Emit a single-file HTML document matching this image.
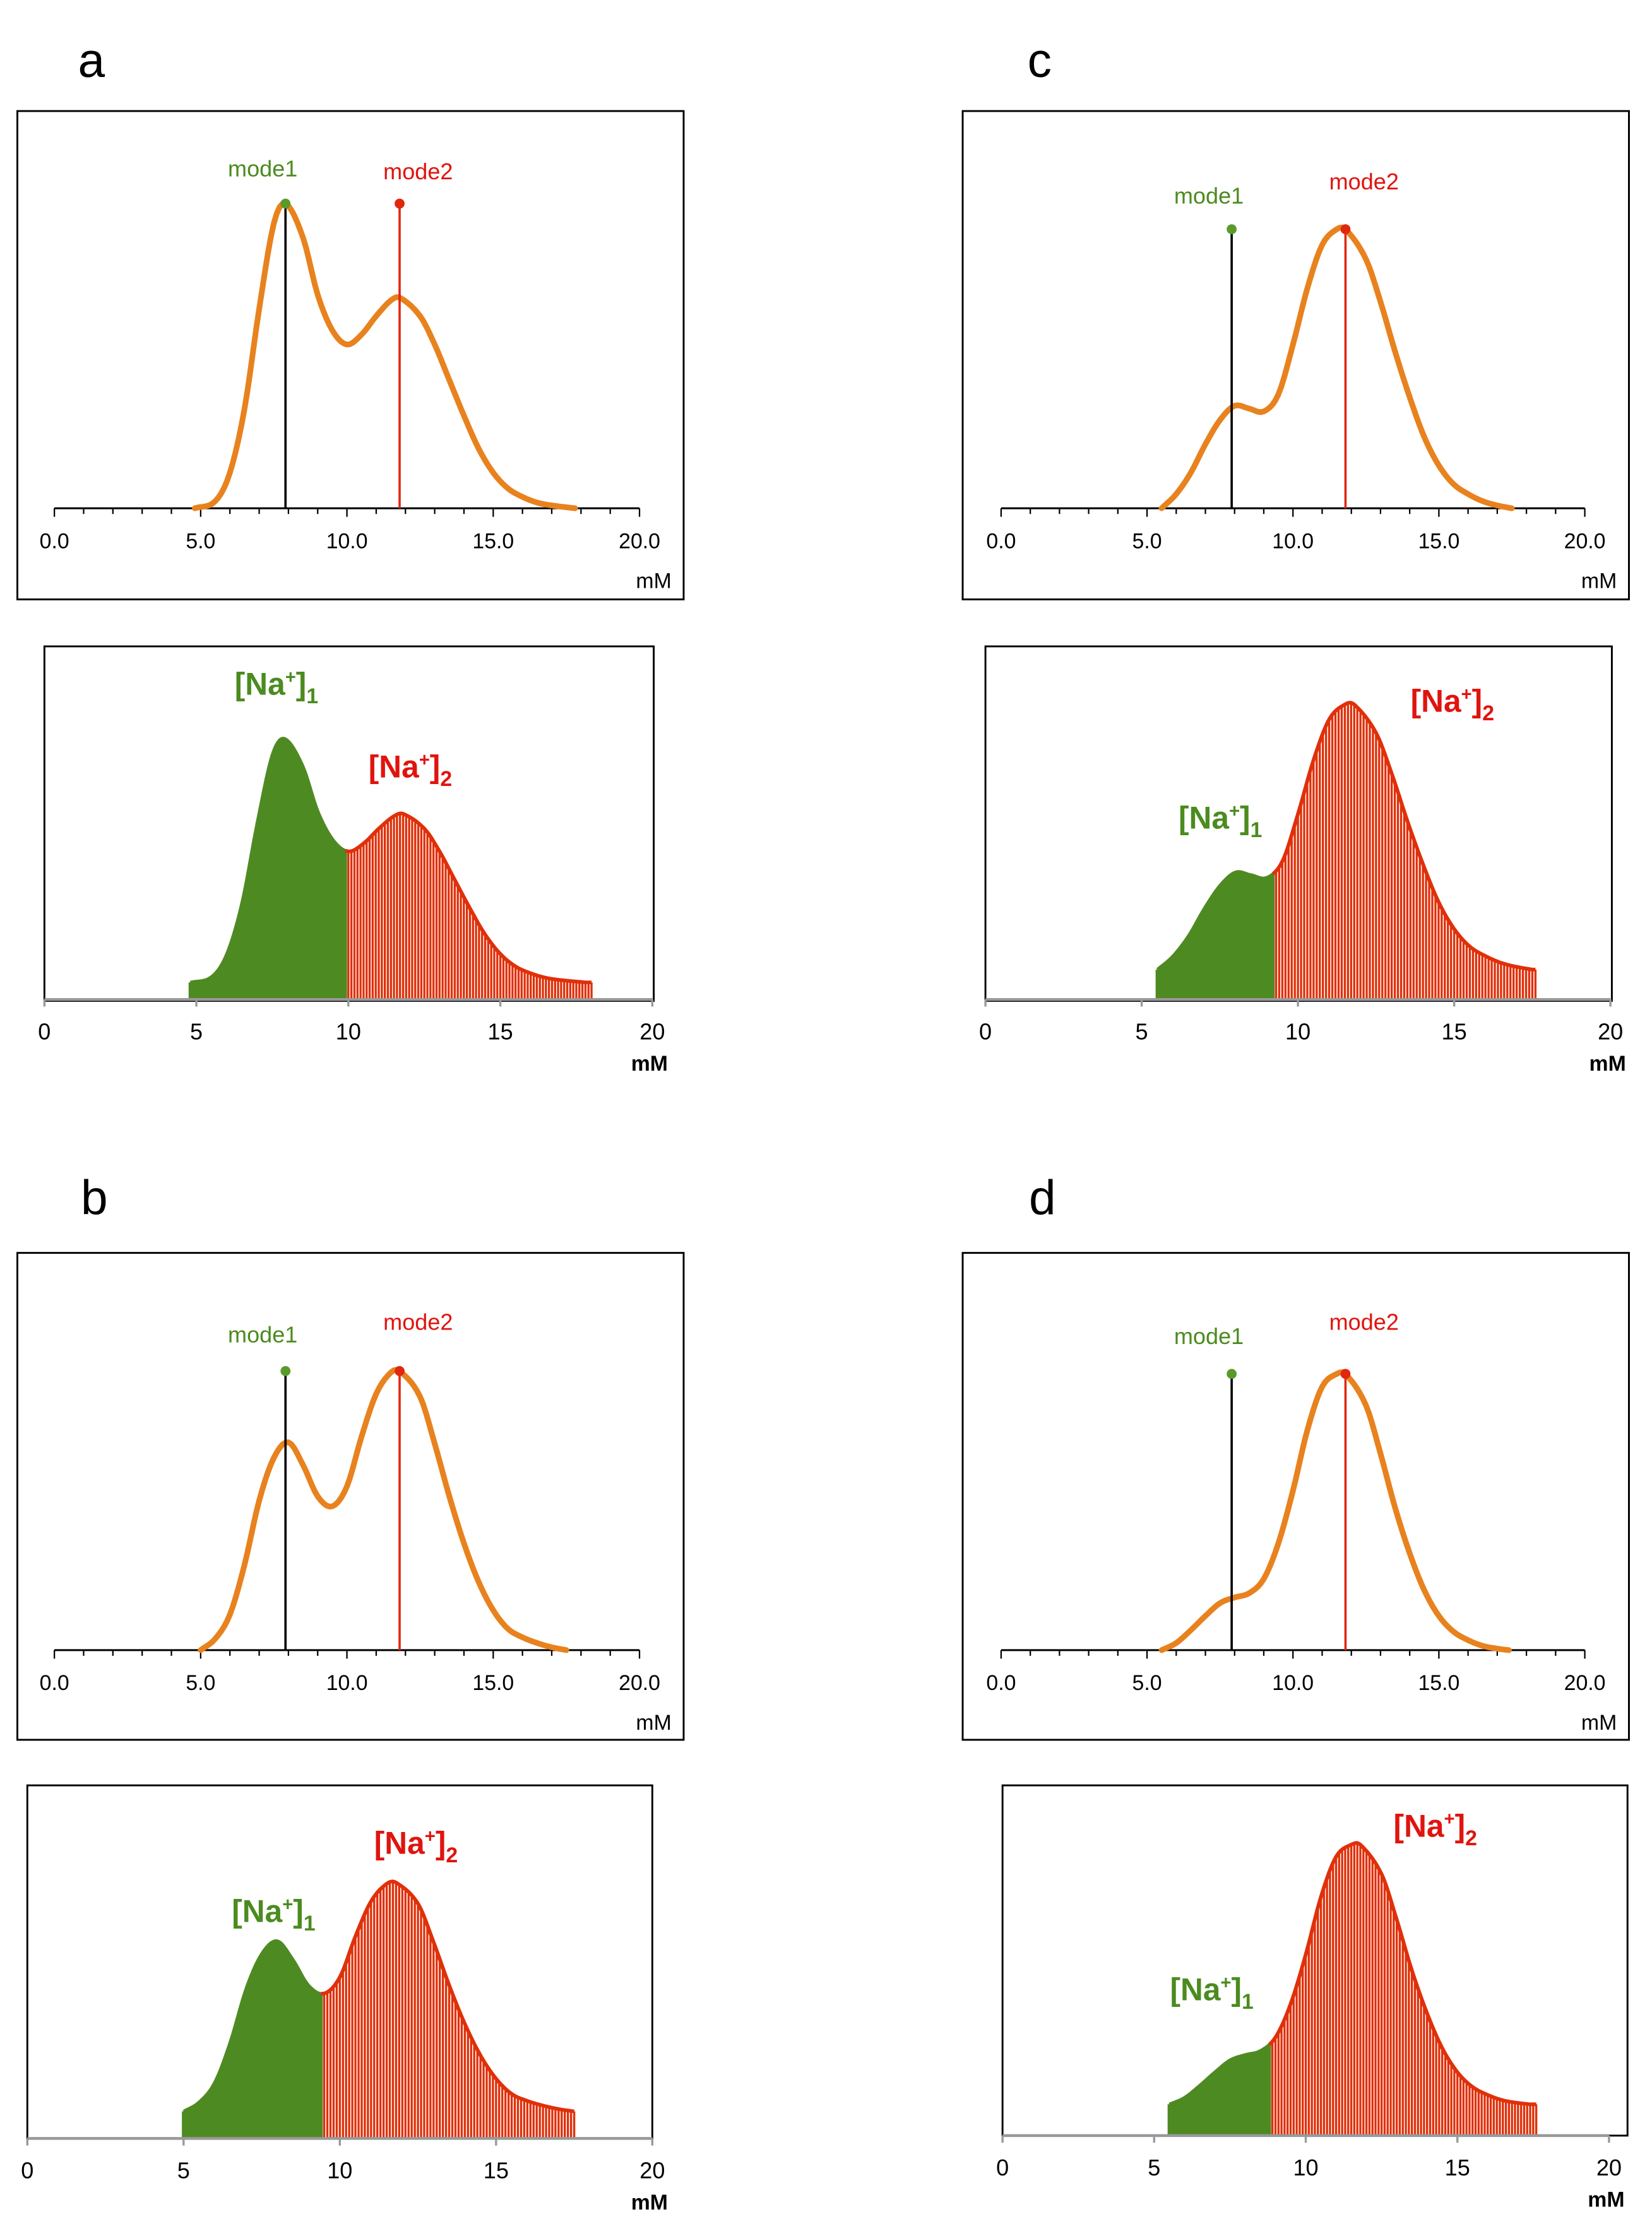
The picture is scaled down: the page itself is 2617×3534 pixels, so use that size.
<!DOCTYPE html>
<html><head><meta charset="utf-8"><style>
html,body{margin:0;padding:0;background:#fff;}
svg{display:block;font-family:"Liberation Sans",sans-serif;}
</style></head><body>
<svg id="fig" width="2617" height="3534" viewBox="0 0 1160 1567" xmlns="http://www.w3.org/2000/svg"></svg>
<script>
// ---- data (mM, relative density in top-panel pixels) ----
const xA=[4.8,5.5,6,6.5,7,7.5,7.9,8.5,9,9.5,10,10.5,11,11.5,11.8,12.5,13,13.5,14,14.5,15,15.5,16,16.5,17,17.8];
const yA=[0,5,25,70,140,200,214,190,150,125,115,122,135,146,148,135,115,90,65,42,25,14,8,4,2,0];
const xC=[5.5,6,6.5,7,7.5,8,8.5,9,9.5,10,10.5,11,11.5,11.8,12.5,13,13.5,14,14.5,15,15.5,16,16.5,17,17.5];
const yC=[0,10,25,45,62,72,70,68,80,115,155,185,196,196,175,145,110,78,50,30,17,10,5,2,0];
const xB=[5,5.5,6,6.5,7,7.5,8,8.5,9,9.5,10,10.5,11,11.5,11.8,12.5,13,13.5,14,14.5,15,15.5,16,16.5,17,17.5];
const yB=[0,8,25,60,105,135,146,130,108,101,115,150,180,195,196,178,145,108,75,48,28,15,9,5,2,0];
const xD=[5.5,6,6.5,7,7.5,8,8.5,9,9.5,10,10.5,11,11.5,11.8,12.5,13,13.5,14,14.5,15,15.5,16,16.5,17,17.4];
const yD=[0,5,14,24,33,37,40,50,75,112,155,185,194,194,172,138,100,68,42,24,13,7,3,1,0];
const modes=[7.9,11.8];
const topTicks=["0.0","5.0","10.0","15.0","20.0"];
const botTicks=["0","5","10","15","20"];

const NS="http://www.w3.org/2000/svg";
const svg=document.getElementById('fig');
function mk(tag,attrs,parent,text){const e=document.createElementNS(NS,tag);for(const k in attrs)e.setAttribute(k,attrs[k]);if(text!==undefined)e.textContent=text;(parent||svg).appendChild(e);return e;}
function interp(xs,ys,x){
  const n=xs.length;
  if(x<=xs[0])return ys[0];if(x>=xs[n-1])return ys[n-1];
  const m=i=>{const a=Math.max(0,i-1),b=Math.min(n-1,i+1);return (ys[b]-ys[a])/(xs[b]-xs[a]);};
  for(let i=1;i<n;i++){if(x<=xs[i]){const hh=xs[i]-xs[i-1],t=(x-xs[i-1])/hh,t2=t*t,t3=t2*t;
    return (2*t3-3*t2+1)*ys[i-1]+(t3-2*t2+t)*hh*m(i-1)+(-2*t3+3*t2)*ys[i]+(t3-t2)*hh*m(i);}}
  return ys[n-1];}
function smooth(pts){let d="M"+pts[0][0]+","+pts[0][1];for(let i=0;i<pts.length-1;i++){const p0=pts[Math.max(0,i-1)],p1=pts[i],p2=pts[i+1],p3=pts[Math.min(pts.length-1,i+2)];const c1=[p1[0]+(p2[0]-p0[0])/6,p1[1]+(p2[1]-p0[1])/6],c2=[p2[0]-(p3[0]-p1[0])/6,p2[1]-(p3[1]-p1[1])/6];d+=" C"+c1[0]+","+c1[1]+" "+c2[0]+","+c2[1]+" "+p2[0]+","+p2[1];}return d;}

function topPanel(o){
  const g=mk('g',{});
  
  
  const r=mk('rect',{x:o.bx,y:o.by,width:o.bw,height:o.bh,fill:'none',stroke:'#000','stroke-width':1.3},g);
  
  const sx=v=>o.x0+(o.x1-o.x0)*v/20;
  const ax=mk('line',{x1:sx(0),x2:sx(20),y1:o.ay,y2:o.ay,stroke:'#000','stroke-width':1.3},g);
  
  for(let v=0;v<=20;v++){mk('line',{x1:sx(v),x2:sx(v),y1:o.ay,y2:o.ay+(v%5?4:6),stroke:'#000','stroke-width':1},g);}
  topTicks.forEach((t,i)=>{const e=mk('text',{x:sx(i*5),y:o.ay+28,'font-size':15,'text-anchor':'middle',fill:'#000'},g,t);});
  const u=mk('text',{x:sx(20)+10,y:o.ay+56,'font-size':15,'text-anchor':'middle'},g,'mM');
  const pts=[];for(let x=o.xs[0];x<=o.xs[o.xs.length-1]+1e-6;x+=0.1)pts.push([sx(x),o.ay-interp(o.xs,o.ys,x)]);
  let d="M"+pts.map(p=>p[0].toFixed(2)+","+p[1].toFixed(2)).join(" L");
  const c=mk('path',{d:d,fill:'none',stroke:'#E8821E','stroke-width':4,'stroke-linecap':'round','stroke-linejoin':'round'},g);
  
  const l1=mk('line',{x1:sx(modes[0]),x2:sx(modes[0]),y1:o.ay,y2:o.ay-o.mh,stroke:'#000','stroke-width':1.6},g);
  
  mk('circle',{cx:sx(modes[0]),cy:o.ay-o.mh,r:3.5,fill:'#5a9a2a'},g);
  const l2=mk('line',{x1:sx(modes[1]),x2:sx(modes[1]),y1:o.ay,y2:o.ay-o.mh,stroke:'#E0280E','stroke-width':1.6},g);
  
  mk('circle',{cx:sx(modes[1]),cy:o.ay-o.mh,r:3.5,fill:'#E0280E'},g);
  const t1=mk('text',{x:sx(modes[0])-16,y:o.l1y,'font-size':16,'text-anchor':'middle',fill:'#4b8b1f'},g,'mode1');
  
  const t2=mk('text',{x:sx(modes[1])+13,y:o.l2y,'font-size':16,'text-anchor':'middle',fill:'#E0140E'},g,'mode2');
  
}

function botPanel(o){
  const g=mk('g',{});
  
  
  const r=mk('rect',{x:o.bx,y:o.by,width:o.bw,height:o.bh,fill:'none',stroke:'#000','stroke-width':1.3},g);
  
  const sx=v=>o.x0+(o.x1-o.x0)*v/20;
  const h=x=>o.off+o.k*interp(o.xs,o.ys,x);
  const start=o.xs[0],end=o.xs[o.xs.length-1]+o.ext;
  const hh=x=>x>o.xs[o.xs.length-1]?o.off:h(x);
  for(let x=start;x<=end+1e-6;x+=0.1){
    const green=x<o.split;
    const b=mk('line',{x1:sx(x),x2:sx(x),y1:o.ay,y2:o.ay-hh(x),stroke:green?'#4E8A22':'#E0300A','stroke-width':green?2.4:1.5},g);
    
  }
  const ptsG=[],ptsR=[];
  for(let x=start;x<=end+1e-6;x+=0.1){(x<o.split?ptsG:ptsR).push([sx(x),o.ay-hh(x)]);}
  ptsR.unshift(ptsG[ptsG.length-1]);
  const cg=mk('path',{d:smooth(ptsG),fill:'none',stroke:'#4E8A22','stroke-width':2.2},g);
  
  const cr=mk('path',{d:smooth(ptsR),fill:'none',stroke:'#E0300A','stroke-width':2.6},g);
  
  const ax=mk('line',{x1:o.bx,x2:sx(20),y1:o.ay,y2:o.ay,stroke:'#999','stroke-width':2},g);
  
  botTicks.forEach((t,i)=>{mk('line',{x1:sx(i*5),x2:sx(i*5),y1:o.ay,y2:o.ay+5,stroke:'#999','stroke-width':1.5},g);
    const e=mk('text',{x:sx(i*5),y:o.ay+28,'font-size':16,'text-anchor':'middle'},g,t);});
  const u=mk('text',{x:sx(20)-2,y:o.ay+50,'font-size':15,'font-weight':'bold','text-anchor':'middle'},g,'mM');
  
  function lab(x,y,col,sub,name){const t=mk('text',{x:x,y:y,'font-size':22,'font-weight':'bold','text-anchor':'middle',fill:col},g);
    
    mk('tspan',{},t,'[Na');mk('tspan',{dy:-8,'font-size':13},t,'+');mk('tspan',{dy:8},t,']');mk('tspan',{dy:6,'font-size':15},t,sub);}
  lab(o.g1x,o.g1y,'#4b8b1f','1','na1-label');
  lab(o.g2x,o.g2y,'#E0140E','2','na2-label');
}

function letter(x,y,t){const e=mk('text',{x:x,y:y,'font-size':34,'text-anchor':'middle'},svg,t);}
letter(64,54,'a');letter(730,54,'c');letter(66,853,'b');letter(732,853,'d');

topPanel({id:'a',bx:12,by:78,bw:468,bh:343,x0:38,x1:449,ay:357,xs:xA,ys:yA,mh:214,l1y:124,l2y:126});
topPanel({id:'c',bx:676,by:78,bw:468,bh:343,x0:703,x1:1113,ay:357,xs:xC,ys:yC,mh:196,l1y:143,l2y:133});
topPanel({id:'b',bx:12,by:880,bw:468,bh:342,x0:38,x1:449,ay:1159,xs:xB,ys:yB,mh:196,l1y:943,l2y:934});
topPanel({id:'d',bx:676,by:880,bw:468,bh:342,x0:703,x1:1113,ay:1159,xs:xD,ys:yD,mh:194,l1y:944,l2y:934});

botPanel({id:'a',bx:31,by:454,bw:428,bh:249,x0:31,x1:458,ay:702,xs:xA,ys:yA,off:12,k:0.8,split:9.9,ext:0.2,g1x:194,g1y:488,g2x:288,g2y:546});
botPanel({id:'c',bx:692,by:454,bw:440,bh:249,x0:692,x1:1131,ay:702,xs:xC,ys:yC,off:21,k:0.95,split:9.2,ext:0.1,g1x:857,g1y:582,g2x:1020,g2y:500});
botPanel({id:'b',bx:19,by:1254,bw:439,bh:248,x0:19,x1:458,ay:1502,xs:xB,ys:yB,off:19,k:0.82,split:9.4,ext:0,g1x:192,g1y:1350,g2x:292,g2y:1302});
botPanel({id:'d',bx:704,by:1254,bw:439,bh:246,x0:704,x1:1130,ay:1500,xs:xD,ys:yD,off:22,k:0.94,split:8.8,ext:0.2,g1x:851,g1y:1405,g2x:1008,g2y:1290});
</script>
</body></html>
